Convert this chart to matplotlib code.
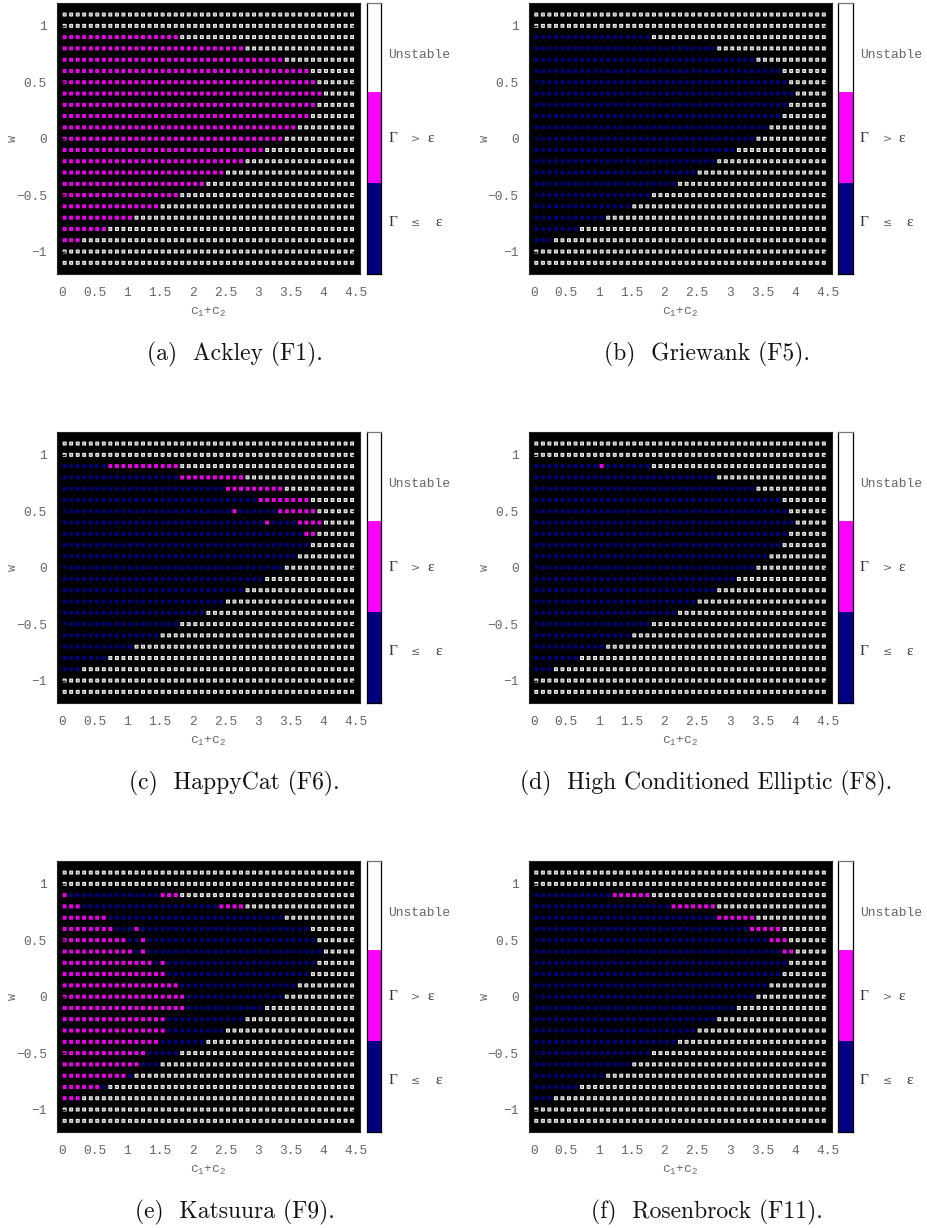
import matplotlib

matplotlib.use("Agg")
import matplotlib.pyplot as plt
import numpy as np
from matplotlib.colors import ListedColormap

W, H = 927, 1228
NAVY = "#000080"
MAGENTA = "#ff00ff"
TICK_GREY = "#666666"

# grid of the parameter sweep
c_sum = np.arange(45) * 0.1
inertia = np.round(np.arange(1.1, -1.11, -0.1), 1)

# first unstable column in each row, top row (w=1.1) first
unstable_from = [0, 0, 18, 28, 34, 38, 39, 40, 39, 38, 36, 34, 31, 28, 25, 22, 18, 15, 11, 7, 3, 0, 0]

# magenta runs per panel: (row, first col, last col)
ackley_runs = [(r, 0, 44) for r in range(23)]
griewank_runs = []
happycat_runs = [
    (2, 7, 17),
    (3, 18, 27),
    (4, 25, 33),
    (5, 30, 37),
    (6, 26, 26),
    (6, 33, 38),
    (7, 31, 31),
    (7, 36, 39),
    (8, 37, 38),
]
elliptic_runs = [(2, 10, 10)]
katsuura_runs = [
    (2, 0, 0),
    (2, 15, 17),
    (3, 0, 2),
    (3, 24, 27),
    (4, 0, 6),
    (5, 0, 7),
    (5, 11, 11),
    (6, 0, 9),
    (6, 12, 12),
    (7, 0, 10),
    (7, 12, 12),
    (8, 0, 13),
    (8, 15, 15),
    (9, 0, 15),
    (10, 0, 17),
    (11, 0, 18),
    (12, 0, 18),
    (13, 0, 15),
    (14, 0, 15),
    (15, 0, 14),
    (16, 0, 12),
    (17, 0, 11),
    (18, 0, 9),
    (19, 0, 5),
    (20, 0, 2),
]
rosenbrock_runs = [
    (2, 12, 17),
    (3, 21, 27),
    (4, 28, 33),
    (5, 33, 37),
    (6, 36, 38),
    (7, 38, 39),
]

captions = [
    "(a)  Ackley (F1).",
    "(b)  Griewank (F5).",
    "(c)  HappyCat (F6).",
    "(d)  High Conditioned Elliptic (F8).",
    "(e)  Katsuura (F9).",
    "(f)  Rosenbrock (F11).",
]
panel_runs = [ackley_runs, griewank_runs, happycat_runs, elliptic_runs, katsuura_runs, rosenbrock_runs]

x_ticks = [0, 0.5, 1, 1.5, 2, 2.5, 3, 3.5, 4, 4.5]
x_tick_labels = ["0", "0.5", "1", "1.5", "2", "2.5", "3", "3.5", "4", "4.5"]
y_ticks = [-1, -0.5, 0, 0.5, 1]
y_tick_labels = ["\u22121", "\u22120.5", "0", "0.5", "1"]


def px_axes(fig, left, top, right, bottom):
    return fig.add_axes([left / W, 1 - bottom / H, (right - left) / W, (bottom - top) / H])


def build_grid(runs):
    grid = np.full((len(inertia), len(c_sum)), 2)
    for row, start in enumerate(unstable_from):
        grid[row, :start] = 0
    for row, first, last in runs:
        grid[row, first : min(last + 1, unstable_from[row])] = 1
    return grid


def draw_panel(fig, left, top, runs, caption):
    right = left + 302.7
    bottom = top + 271.4

    ax = px_axes(fig, left, top, right, bottom)
    ax.set_facecolor("black")
    ax.set_xlim(-0.072, 4.561)
    ax.set_ylim(-1.2, 1.205)

    grid = build_grid(runs)
    xx, yy = np.meshgrid(c_sum + 0.04, inertia)
    faces = np.array(["#00006c", "#d000d0", "#909090"])[grid.ravel()]
    edges = np.array([NAVY, MAGENTA, "white"])[grid.ravel()]
    dots = ax.scatter(xx.ravel(), yy.ravel(), s=4.5, marker="s", c=faces, edgecolors=edges, linewidths=0.7)
    dots.set_snap(False)

    ax.set_xticks(x_ticks, x_tick_labels)
    ax.set_yticks(y_ticks, y_tick_labels)
    ax.tick_params(axis="x", length=0, pad=9)
    ax.tick_params(axis="y", direction="in", length=5.5, width=0.9, color="black", left=True, right=True, pad=7.5)
    for label in ax.get_xticklabels() + ax.get_yticklabels():
        label.set_family("Liberation Mono")
        label.set_fontsize(9.3)
        label.set_color(TICK_GREY)
    for spine in ax.spines.values():
        spine.set_color("#222222")
        spine.set_linewidth(0.8)

    fig.text((left - 44) / W, 1 - (top + 135.5) / H, "w", rotation=90, family="Liberation Mono",
             fontsize=8.5, color=TICK_GREY, ha="center", va="center")
    fig.text((left + 151) / W, 1 - (top + 309.5) / H, r"c$_{\mathdefault{1}}$+c$_{\mathdefault{2}}$",
             family="Liberation Mono", fontsize=9.3, color=TICK_GREY, ha="center", va="center")

    # colour bar
    cax = px_axes(fig, left + 309.2, top, left + 324.2, bottom)
    cmap = ListedColormap([NAVY, MAGENTA, "white"])
    cax.imshow(np.array([[2], [1], [0]]), cmap=cmap, aspect="auto", extent=(0, 1, 0, 3), interpolation="nearest")
    cax.set_xticks([])
    cax.set_yticks([])
    for spine in cax.spines.values():
        spine.set_color("black")
        spine.set_linewidth(0.9)
    cax.spines["top"].set_color("#777777")

    label_x = (left + 331) / W
    fig.text(label_x, 1 - (top + 52.5) / H, "Unstable", family="Liberation Mono", fontsize=9.4,
             color=TICK_GREY, va="center")
    for y_off, sign, sign_off, eps_off in [(136, ">", 27.4, 42), (220, "\u2264", 27.4, 50)]:
        y = 1 - (top + y_off) / H
        fig.text(label_x, y, "\u0393", family="Liberation Serif", fontsize=11, color="#333333", va="center")
        fig.text(label_x + sign_off / W, y, sign, family="DejaVu Sans", fontsize=8, color=TICK_GREY, va="center", ha="center")
        fig.text(label_x + eps_off / W, y, "\u03b5", family="Liberation Serif", fontsize=11, color="#333333", va="center", ha="center")

    fig.text((left + 177.5) / W, 1 - (top + 351.5) / H, caption, family="cmr10", fontsize=17,
             color="#111111", ha="center", va="center")


fig = plt.figure(figsize=(W / 100, H / 100), dpi=100, facecolor="white")

lefts = [57.3, 529.0]
tops = [2.7, 431.7, 860.7]
for i, (runs, caption) in enumerate(zip(panel_runs, captions)):
    draw_panel(fig, lefts[i % 2], tops[i // 2], runs, caption)

fig.savefig("out.png", dpi=100)
